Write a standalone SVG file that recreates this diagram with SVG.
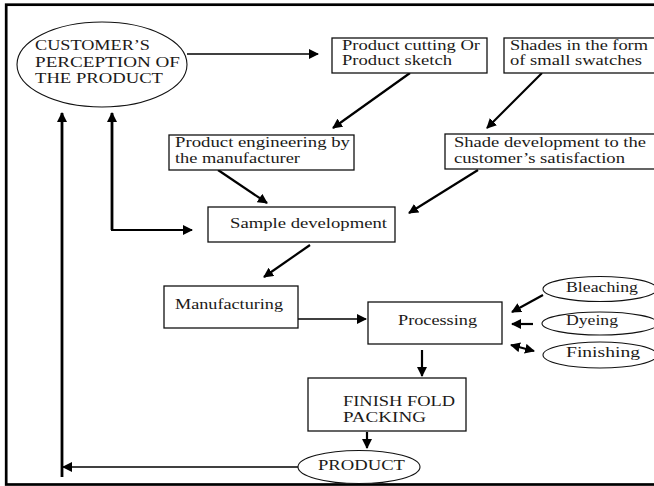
<svg xmlns="http://www.w3.org/2000/svg" width="654" height="486" viewBox="0 0 654 486">
<style>
  text { font-family: "Liberation Serif", "Times New Roman", serif; font-size: 15px; fill: #1c1a18; }
  .box { fill: #fff; stroke: #111; stroke-width: 1.3; }
  .ell { fill: #fff; stroke: #111; stroke-width: 1.1; }
  .c { fill: none; stroke: #000; stroke-width: 2.2; }
  .thin { fill: none; stroke: #000; stroke-width: 1.6; }
  .fb { fill: none; stroke: #000; stroke-width: 2.8; }
</style>
<defs>
  <marker id="ah" markerWidth="10" markerHeight="10" refX="9" refY="5" orient="auto-start-reverse" markerUnits="userSpaceOnUse">
    <path d="M0,0 L10,5 L0,10 z" fill="#000"/>
  </marker>
</defs>
<rect x="6.2" y="4.7" width="660" height="479.8" fill="none" stroke="#000" stroke-width="2.7"/>

<g id="connectors">
  <line class="thin" x1="187" y1="54" x2="318" y2="54" marker-end="url(#ah)"/>
  <line class="c" x1="410" y1="73" x2="333" y2="128" marker-end="url(#ah)"/>
  <line class="c" x1="542" y1="73" x2="487" y2="128" marker-end="url(#ah)"/>
  <line class="c" x1="218" y1="170" x2="267" y2="203" marker-end="url(#ah)"/>
  <line class="c" x1="478" y1="170" x2="409" y2="213" marker-end="url(#ah)"/>
  <line class="fb" x1="112" y1="230" x2="112" y2="113" marker-end="url(#ah)"/>
  <polyline class="c" points="111,230 192,230" marker-end="url(#ah)"/>
  <line class="c" x1="310" y1="245" x2="264" y2="277" marker-end="url(#ah)"/>
  <line class="thin" x1="298" y1="319" x2="366" y2="319" marker-end="url(#ah)"/>
  <line class="c" x1="422" y1="350" x2="422" y2="376" marker-end="url(#ah)"/>
  <line class="c" x1="367" y1="432" x2="367" y2="448" marker-end="url(#ah)"/>
  <line class="fb" x1="62" y1="477" x2="62" y2="113" marker-end="url(#ah)"/>
  <line class="thin" x1="298" y1="467" x2="63" y2="467" marker-end="url(#ah)"/>
  <line class="c" x1="543" y1="295" x2="512" y2="312" marker-end="url(#ah)"/>
  <line class="c" x1="533" y1="324" x2="512" y2="324" marker-end="url(#ah)"/>
  <line class="c" x1="511" y1="345" x2="534" y2="351" marker-start="url(#ah)" marker-end="url(#ah)"/>
</g>

<g id="customer">
  <ellipse class="ell" cx="102" cy="64.5" rx="85" ry="42.5"/>
  <text x="35" y="50" textLength="115" lengthAdjust="spacingAndGlyphs">CUSTOMER’S</text>
  <text x="35" y="67" textLength="145" lengthAdjust="spacingAndGlyphs">PERCEPTION OF</text>
  <text x="35" y="83" textLength="128" lengthAdjust="spacingAndGlyphs">THE PRODUCT</text>
</g>
<g id="cutting">
  <rect class="box" x="332" y="38" width="155" height="35"/>
  <text x="342" y="50" textLength="138" lengthAdjust="spacingAndGlyphs">Product cutting Or</text>
  <text x="342" y="65" textLength="110" lengthAdjust="spacingAndGlyphs">Product sketch</text>
</g>
<g id="shades">
  <rect class="box" x="504" y="38" width="160" height="35"/>
  <text x="510" y="50" textLength="138" lengthAdjust="spacingAndGlyphs">Shades in the form</text>
  <text x="510" y="65" textLength="132" lengthAdjust="spacingAndGlyphs">of small swatches</text>
</g>
<g id="engineering">
  <rect class="box" x="169" y="135" width="185" height="35"/>
  <text x="175" y="147" textLength="175" lengthAdjust="spacingAndGlyphs">Product engineering by</text>
  <text x="175" y="163" textLength="125" lengthAdjust="spacingAndGlyphs">the manufacturer</text>
</g>
<g id="shade-dev">
  <rect class="box" x="445" y="134" width="215" height="35"/>
  <text x="454" y="147" textLength="192" lengthAdjust="spacingAndGlyphs">Shade development to the</text>
  <text x="454" y="163" textLength="171" lengthAdjust="spacingAndGlyphs">customer’s satisfaction</text>
</g>
<g id="sample">
  <rect class="box" x="208" y="207" width="187" height="35"/>
  <text x="230" y="228" textLength="157" lengthAdjust="spacingAndGlyphs">Sample development</text>
</g>
<g id="manufacturing">
  <rect class="box" x="164" y="286" width="134" height="42"/>
  <text x="175" y="309" textLength="108" lengthAdjust="spacingAndGlyphs">Manufacturing</text>
</g>
<g id="processing">
  <rect class="box" x="368" y="302" width="134" height="42"/>
  <text x="398" y="325" textLength="79" lengthAdjust="spacingAndGlyphs">Processing</text>
</g>
<g id="bleaching">
  <ellipse class="ell" cx="600" cy="289" rx="57" ry="12.5"/>
  <text x="566" y="292" textLength="72" lengthAdjust="spacingAndGlyphs">Bleaching</text>
</g>
<g id="dyeing">
  <ellipse class="ell" cx="600" cy="323.5" rx="58" ry="11.5"/>
  <text x="566" y="325" textLength="52" lengthAdjust="spacingAndGlyphs">Dyeing</text>
</g>
<g id="finishing">
  <ellipse class="ell" cx="600" cy="355" rx="57" ry="13"/>
  <text x="566" y="357" textLength="74" lengthAdjust="spacingAndGlyphs">Finishing</text>
</g>
<g id="packing">
  <rect class="box" x="308" y="378" width="158" height="53"/>
  <text x="343" y="406" textLength="112" lengthAdjust="spacingAndGlyphs">FINISH FOLD</text>
  <text x="343" y="422" textLength="83" lengthAdjust="spacingAndGlyphs">PACKING</text>
</g>
<g id="product">
  <ellipse class="ell" cx="359" cy="467" rx="61" ry="16.5"/>
  <text x="318" y="470" textLength="87" lengthAdjust="spacingAndGlyphs">PRODUCT</text>
</g>
</svg>
